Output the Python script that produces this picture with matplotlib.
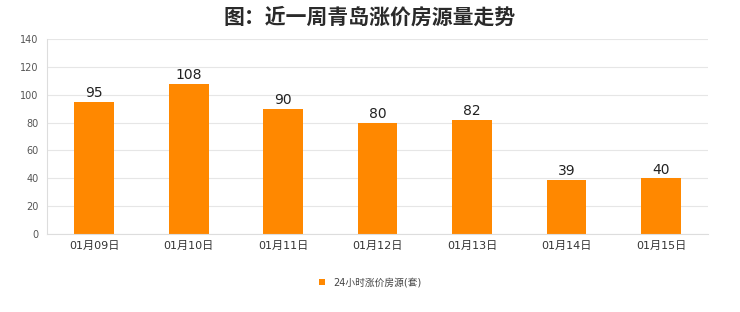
import matplotlib
matplotlib.use('Agg')
import matplotlib.pyplot as plt

plt.rcParams['font.family'] = ['DejaVu Sans', 'Noto Sans CJK SC']

dates = ['01月09日', '01月10日', '01月11日', '01月12日', '01月13日', '01月14日', '01月15日']
counts = [95, 108, 90, 80, 82, 39, 40]
yticks = [0, 20, 40, 60, 80, 100, 120, 140]

fig = plt.figure(figsize=(7.4, 3.12), dpi=100)
ax = fig.add_axes([0.0635, 0.25, 0.8935, 0.625])

x = range(len(dates))
bars = ax.bar(x, counts, width=0.42, color='#ff8800', label='24小时涨价房源(套)', zorder=2)
for xi, v in zip(x, counts):
    ax.text(xi, v + 1.2, str(v), ha='center', va='bottom', fontsize=10, color='#222222')

ax.set_xlim(-0.5, len(dates) - 0.5)
ax.set_ylim(0, 140)
ax.set_yticks(yticks)
ax.set_xticks(list(x))
ax.set_xticklabels(dates, fontsize=8, color='#333333')
ax.tick_params(axis='y', labelsize=7, colors='#555555', length=0, pad=6)
ax.tick_params(axis='x', length=0, pad=5)
ax.grid(axis='y', color='#e6e6e6', linewidth=0.8, zorder=0)
for s in ['top', 'right']:
    ax.spines[s].set_visible(False)
for s in ['left', 'bottom']:
    ax.spines[s].set_color('#dddddd')

fig.text(0.5, 0.945, '图：近一周青岛涨价房源量走势', ha='center', va='center',
         fontsize=15, fontweight='bold', color='#2a2a2a',
         family=['Noto Sans CJK SC', 'DejaVu Sans'])

fig.legend(handles=[bars], labels=['24小时涨价房源(套)'], loc='center',
           bbox_to_anchor=(0.5, 0.095), frameon=False, fontsize=7,
           handlelength=0.7, handleheight=0.7, labelcolor='#444444')

fig.savefig('out.png', dpi=100, facecolor='white')
